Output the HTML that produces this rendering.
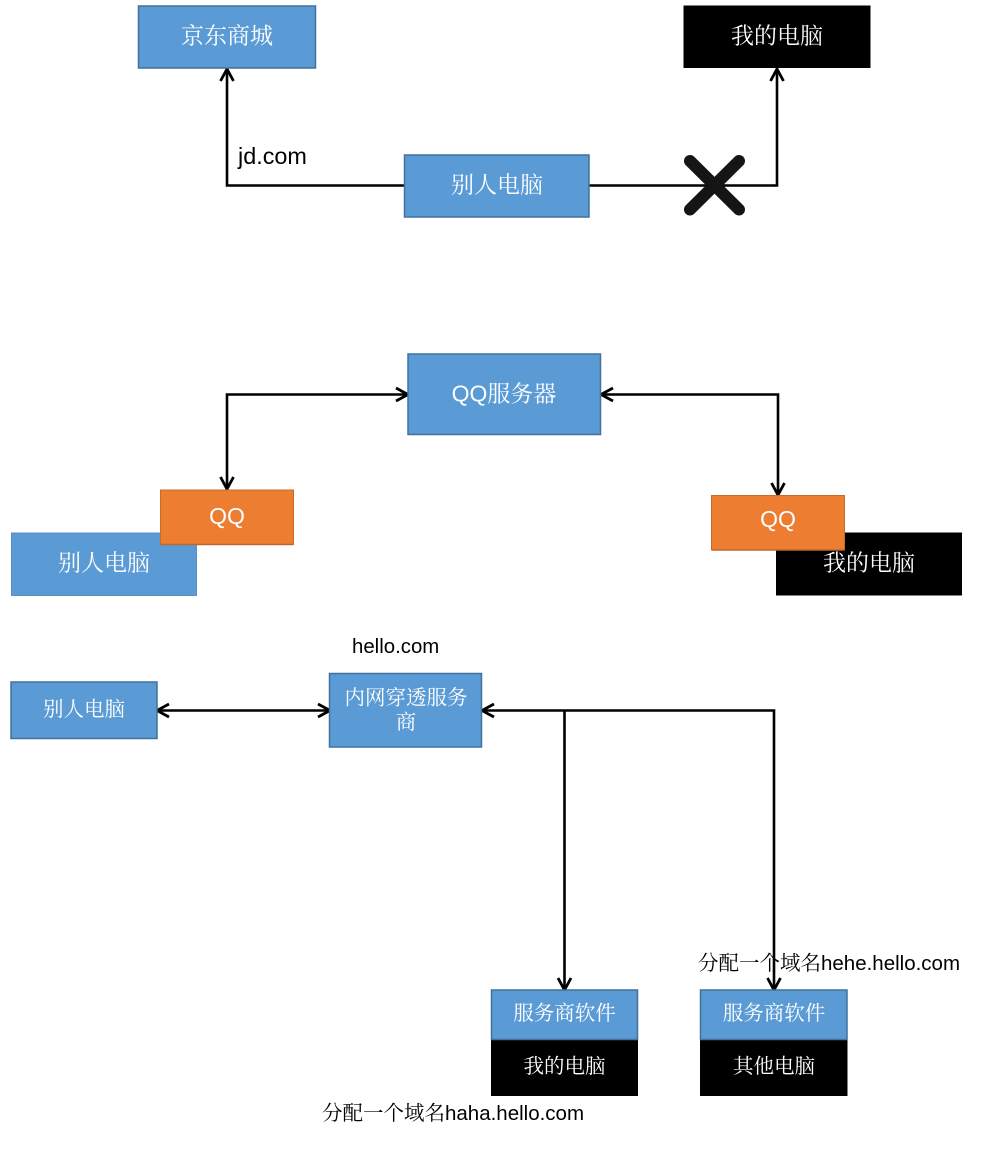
<!DOCTYPE html>
<html lang="zh">
<head>
<meta charset="utf-8">
<style>
html,body{margin:0;padding:0;background:#fff;width:982px;height:1152px;overflow:hidden}
svg{display:block}
.c{font-family:"Liberation Serif","Noto Serif CJK SC",serif;fill:#fff;text-anchor:middle;dominant-baseline:central}
.l{font-family:"Liberation Sans","Noto Sans CJK SC",sans-serif;fill:#fff;text-anchor:middle;dominant-baseline:central}
.t{font-family:"Liberation Sans",sans-serif;fill:#000}
.z{font-family:"Noto Serif CJK SC",serif;fill:#000}
.line{fill:none;stroke:#000;stroke-width:2.600}
.head{fill:none;stroke:#000;stroke-width:2.800}
</style>
</head>
<body>
<svg width="982" height="1152" viewBox="0 0 982 1152" xmlns="http://www.w3.org/2000/svg">
<rect width="982" height="1152" fill="#fff"/>

<!-- Section 1 -->
<path class="line" d="M404 185.500H227V70"/>
<path class="head" d="M220.500 81L227 69L233.500 81"/>
<path class="line" d="M589 185.500H777V70"/>
<path class="head" d="M770.500 81L777 69L783.500 81"/>
<rect x="138.500" y="6" width="177" height="62" fill="#5b9bd5" stroke="#41719c" stroke-width="1.500"/>
<text class="c" x="227" y="36" font-size="23">京东商城</text>
<rect x="683.500" y="5.500" width="187" height="62.500" fill="#000"/>
<text class="c" x="777" y="36" font-size="23">我的电脑</text>
<rect x="404.500" y="155" width="184.500" height="62" fill="#5b9bd5" stroke="#41719c" stroke-width="1.500"/>
<text class="c" x="497" y="185" font-size="23">别人电脑</text>
<text class="t" x="238" y="164" font-size="23.400">jd.com</text>
<path d="M690 161L739 209.500M739 161L690 209.500" fill="none" stroke="#151515" stroke-width="12" stroke-linecap="round"/>

<!-- Section 2 -->
<path class="line" d="M227 488V394.500H406"/>
<path class="head" d="M220.500 477L227 489L233.500 477M396 388L408 394.500L396 401"/>
<path class="line" d="M603 394.500H778V494"/>
<path class="head" d="M613 388L601 394.500L613 401M771.500 483L778 495L784.500 483"/>
<rect x="408" y="354" width="192.500" height="80.500" fill="#5b9bd5" stroke="#41719c" stroke-width="1.500"/>
<text class="l" x="504" y="393.500" font-size="23">QQ<tspan font-family="Liberation Serif,Noto Serif CJK SC,serif">服务器</tspan></text>

<rect x="11.500" y="533" width="185" height="62.500" fill="#5b9bd5" stroke="#5a8fc4" stroke-width="1"/>
<text class="c" x="104" y="563" font-size="23">别人电脑</text>
<rect x="160.500" y="490" width="133" height="54.500" fill="#ed7d31" stroke="#c96a29" stroke-width="1"/>
<path d="M161 544.500H293" stroke="#c0652a" stroke-width="1.500" fill="none"/>
<text class="l" x="227" y="516" font-size="23">QQ</text>

<rect x="776" y="532.500" width="186" height="63" fill="#000"/>
<text class="c" x="869" y="563" font-size="23">我的电脑</text>
<rect x="711.500" y="495.500" width="133" height="54.500" fill="#ed7d31" stroke="#c96a29" stroke-width="1"/>
<path d="M712 550H844" stroke="#c0652a" stroke-width="1.500" fill="none"/>
<text class="l" x="778" y="519" font-size="23">QQ</text>

<!-- Section 3 -->
<path class="line" d="M159 710.500H328"/>
<path class="head" d="M169 704L157 710.500L169 717M318 704L330 710.500L318 717"/>
<path class="line" d="M484 710.500H774V988M564.500 710.500V988"/>
<path class="head" d="M494 704L482 710.500L494 717M558 978L564.500 990L571 978M767.500 978L774 990L780.500 978"/>
<rect x="11" y="682" width="146" height="56.500" fill="#5b9bd5" stroke="#41719c" stroke-width="1.500"/>
<text class="c" x="84" y="710" font-size="20.500">别人电脑</text>
<rect x="329.500" y="673.500" width="152" height="73.500" fill="#5b9bd5" stroke="#41719c" stroke-width="1.500"/>
<text class="c" x="406" y="698.500" font-size="20.500">内网穿透服务</text>
<text class="c" x="406" y="723" font-size="20.500">商</text>
<text class="t" x="352" y="653" font-size="20.400">hello.com</text>

<rect x="491" y="1039.500" width="147" height="56.500" fill="#000"/>
<rect x="491.500" y="990" width="146" height="49.500" fill="#5b9bd5" stroke="#41719c" stroke-width="1.500"/>
<text class="c" x="564.500" y="1014" font-size="20.500">服务商软件</text>
<text class="c" x="564.500" y="1067" font-size="20.500">我的电脑</text>

<rect x="700" y="1039.500" width="147.500" height="56.500" fill="#000"/>
<rect x="700.500" y="990" width="146.500" height="49.500" fill="#5b9bd5" stroke="#41719c" stroke-width="1.500"/>
<text class="c" x="774" y="1014" font-size="20.500">服务商软件</text>
<text class="c" x="774" y="1067" font-size="20.500">其他电脑</text>

<text x="698" y="970" font-size="20.500"><tspan class="z">分配一个域名</tspan><tspan class="t">hehe.hello.com</tspan></text>
<text x="322" y="1120" font-size="20.500"><tspan class="z">分配一个域名</tspan><tspan class="t">haha.hello.com</tspan></text>
</svg>
</body>
</html>
